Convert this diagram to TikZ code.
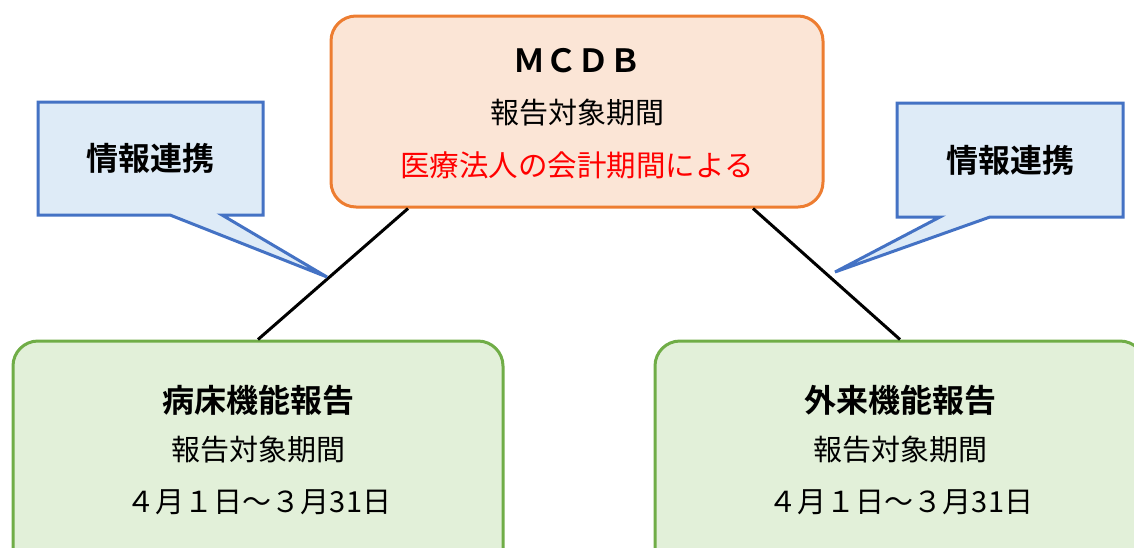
\documentclass[tikz,border=0pt]{standalone}
\usepackage{fontspec}
\setmainfont{Noto Sans CJK JP}[BoldFont={Noto Sans CJK JP Bold}]
\usetikzlibrary{calc}
\definecolor{orbd}{HTML}{ED7D31}
\definecolor{orfl}{HTML}{FBE5D6}
\definecolor{blbd}{HTML}{4472C4}
\definecolor{blfl}{HTML}{DEEBF7}
\definecolor{grbd}{HTML}{70AD47}
\definecolor{grfl}{HTML}{E2F0D9}
\definecolor{redtx}{HTML}{FF0000}
\tikzset{
  roundbox/.style={rounded corners=25pt, line width=3pt, inner sep=0pt},
  callout/.style={draw=blbd, fill=blfl, line width=3pt, line join=miter},
  conn/.style={line width=3pt, black},
  reg/.style={font=\fontsize{29}{31}\selectfont, inner sep=0pt},
  bld/.style={font=\fontsize{32}{34}\selectfont\bfseries, inner sep=0pt},
}
\begin{document}
\begin{tikzpicture}[x=1pt,y=-1pt]
\useasboundingbox (0,0) rectangle (1134,547);
\clip (0,0) rectangle (1134,547);
% boxes
\node[roundbox, draw=orbd, fill=orfl, minimum width=492pt, minimum height=191pt] (mcdb) at (577,111.5) {};
\node[roundbox, draw=grbd, fill=grfl, minimum width=490pt, minimum height=258pt] (bl) at (258,470) {};
\node[roundbox, draw=grbd, fill=grfl, minimum width=490pt, minimum height=258pt] (br) at (900,470) {};
% connectors
\draw[conn] ($(mcdb.south)+(-169,0)$) -- (bl.north);
\draw[conn] ($(mcdb.south)+(176,0)$) -- (br.north);
% callouts
\draw[callout] (38,102) -- (263,102) -- (263,215) -- (222,215) -- (327,277) -- (170,215) -- (38,215) -- cycle;
\draw[callout] (897,103) -- (1123,103) -- (1123,217) -- (990,217) -- (835,272) -- (940,217) -- (897,217) -- cycle;
\node[bld] (cl) at (150.5,158) {情報連携};
\node[bld] (cr) at (1010,160) {情報連携};
% texts top
\node[font=\fontsize{32}{34}\selectfont\bfseries, inner sep=0pt] (t1) at (577,61) {ＭＣＤＢ};
\node[reg] (t2) at (577,113) {報告対象期間};
\node[reg, font=\fontsize{29.5}{31}\selectfont, text=redtx] (t3) at (577,165) {医療法人の会計期間による};
% texts bottom left
\node[bld] (b1) at (258,400) {病床機能報告};
\node[reg] (b2) at (258,450) {報告対象期間};
\node[reg] (b3) at (259,502) {４月１日～３月31日};
% texts bottom right
\node[bld] (r1) at (900,400) {外来機能報告};
\node[reg] (r2) at (900,450) {報告対象期間};
\node[reg] (r3) at (901,502) {４月１日～３月31日};
\end{tikzpicture}
\end{document}
